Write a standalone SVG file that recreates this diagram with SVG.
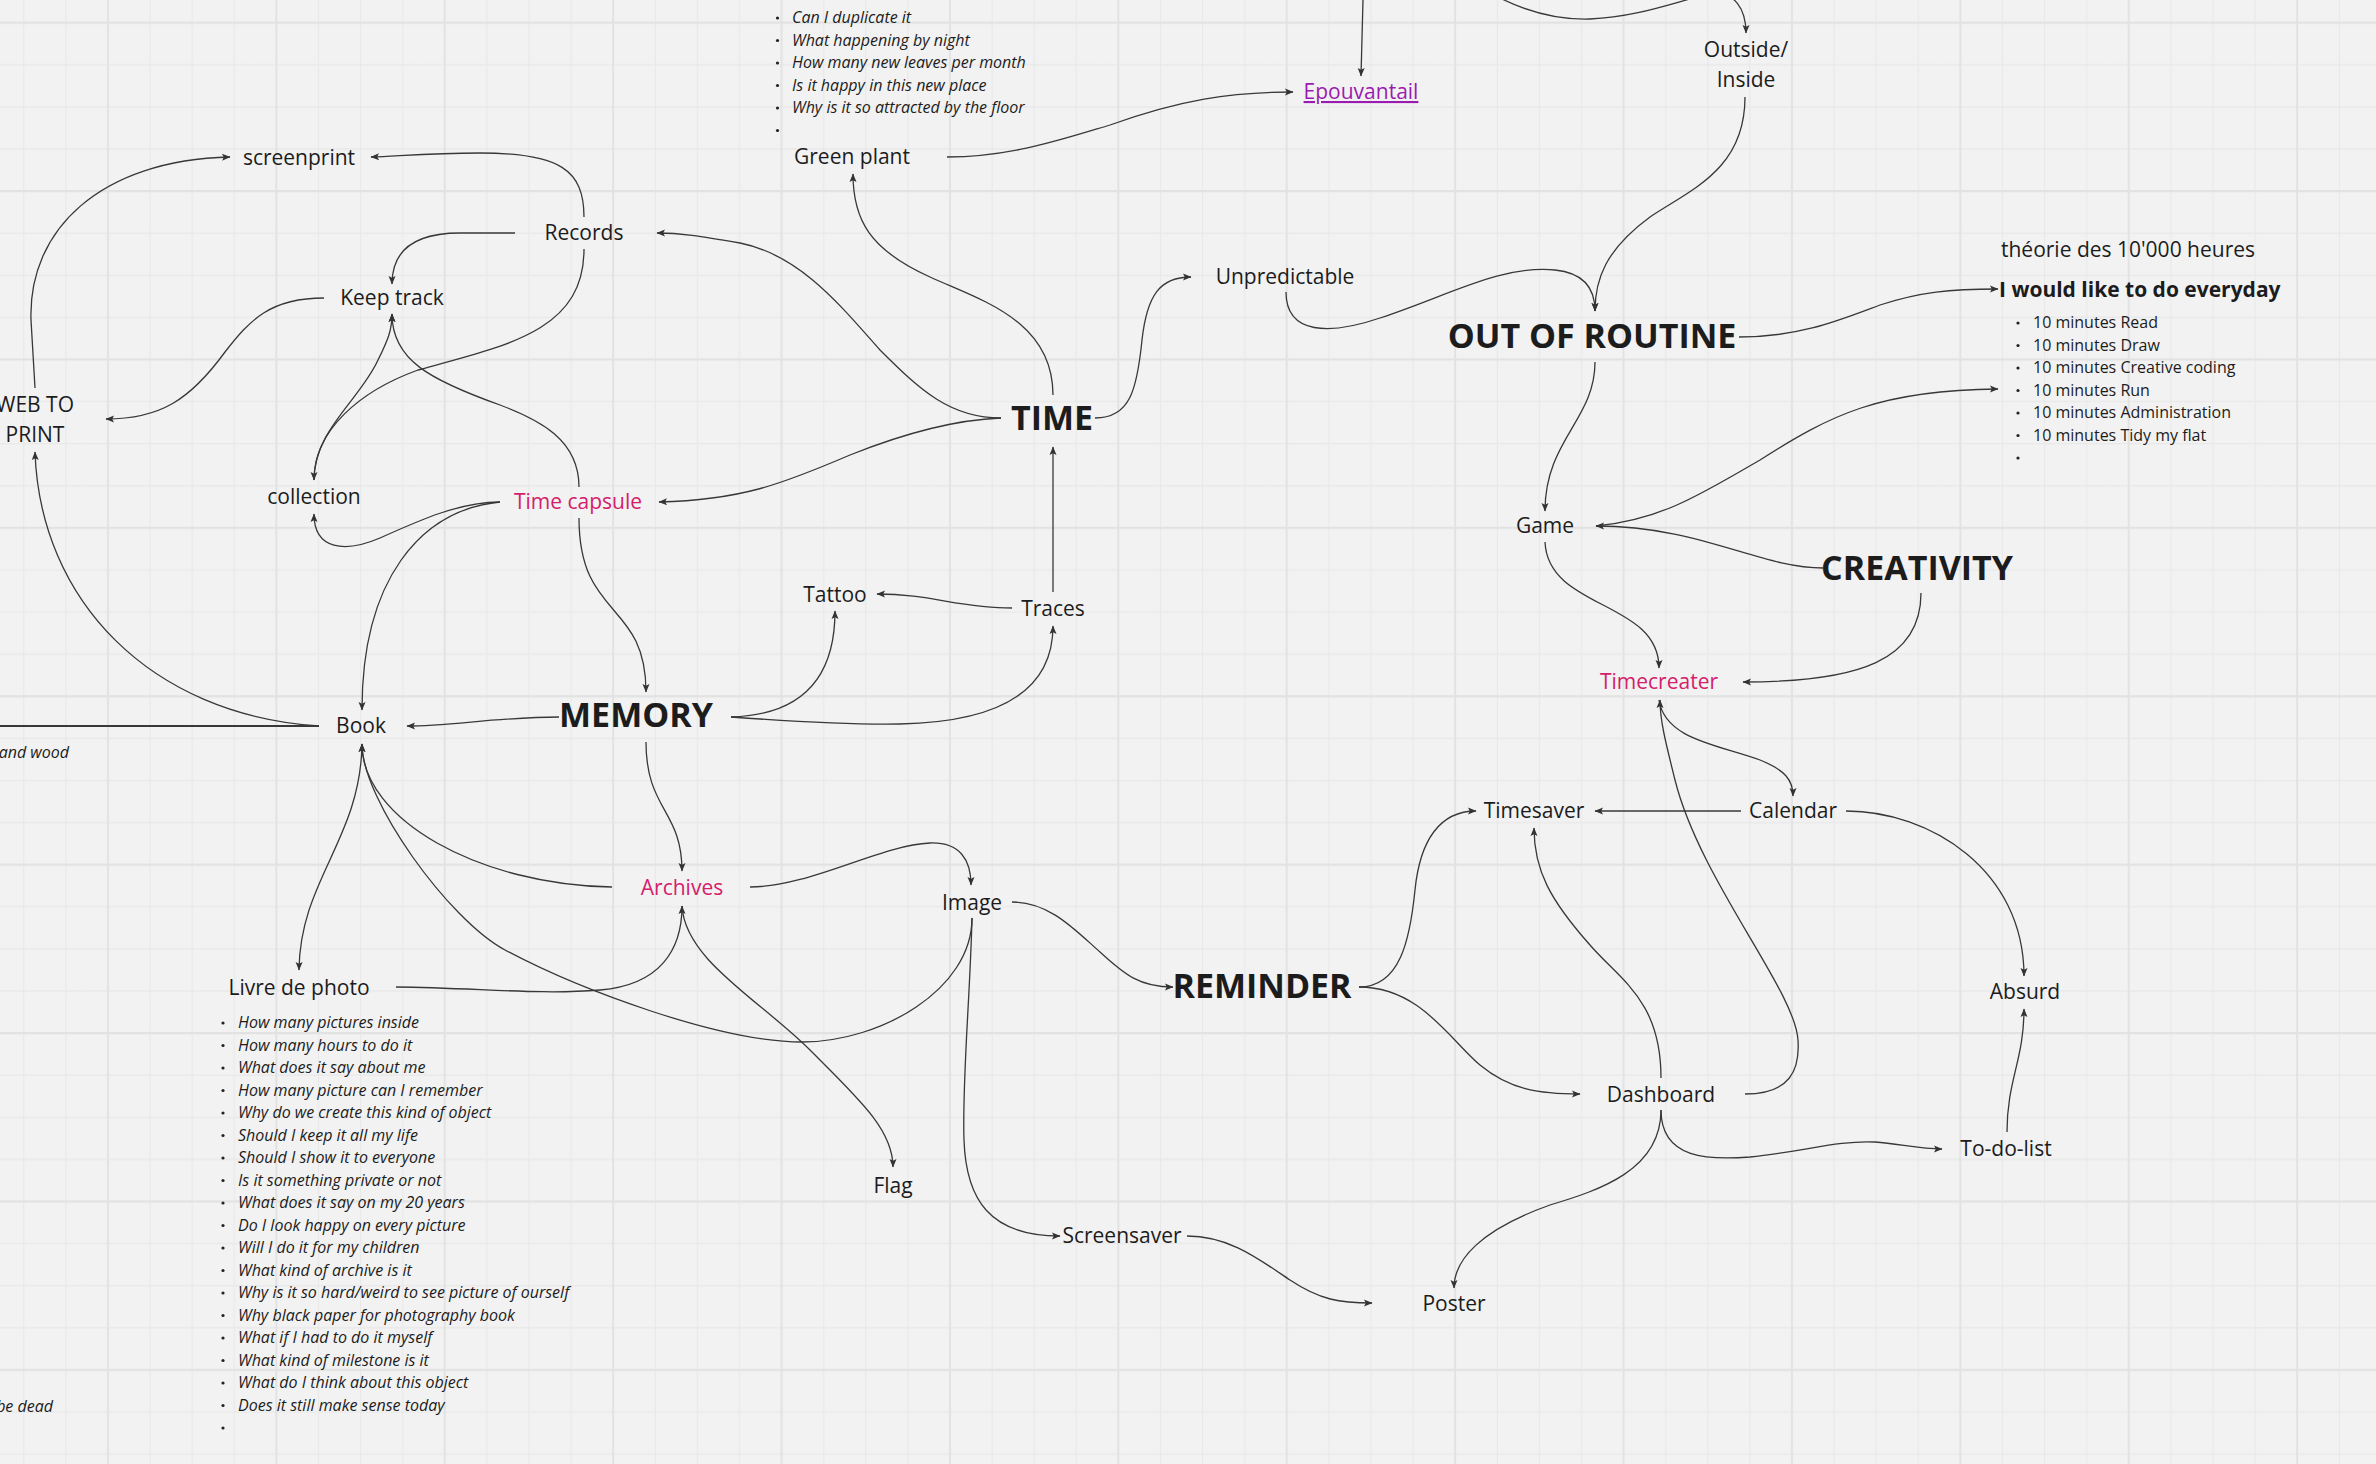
<svg xmlns="http://www.w3.org/2000/svg" width="2376" height="1464" viewBox="0 0 2376 1464">
<defs>
<pattern id="grid" x="86.95" y="1.65" width="168.4" height="168.4" patternUnits="userSpaceOnUse">
<path d="M63.15,0V168.4M105.25,0V168.4M147.35,0V168.4M0,63.15H168.4M0,105.25H168.4M0,147.35H168.4" stroke="#e8e8e8" stroke-width="1" fill="none"/>
<path d="M21.05,0V168.4M0,21.05H168.4" stroke="#e2e2e2" stroke-width="2" fill="none"/>
</pattern>
<marker id="ah" viewBox="0 0 10 10" refX="9" refY="5" markerWidth="10" markerHeight="10" markerUnits="userSpaceOnUse" orient="auto">
<path d="M1,1.5 L9.5,5 L1,8.5 L2.8,5 z" fill="#333"/>
</marker>
<style>
text{font-family:"Open Sans","Liberation Sans",sans-serif;fill:#1c1c1c}
.n{font-size:21px;text-anchor:middle}
.b{font-size:34px;font-weight:700;text-anchor:middle}
.pk{fill:#d4206b}
.li{font-size:16px}
.it{font-style:italic}
.dot{fill:#222}
#connectors path{fill:none;stroke:#383838;stroke-width:1.3}
#connectors .ar{marker-end:url(#ah)}
</style>
</defs>
<rect width="2376" height="1464" fill="#f2f2f2"/>
<rect width="2376" height="1464" fill="url(#grid)"/>

<g id="connectors">
<path class="ar" d="M584,217 C584,170 560,153 480,153 C430,153 400,156 371,157"/>
<path class="ar" d="M35,388 L31,320 C28,230 100,160 230,157"/>
<path class="ar" d="M515,233 L460,233 C415,233 392,250 392,284"/>
<path class="ar" d="M584,249 C584,330 510,345 418,370 C360,391 314,430 314,480"/>
<path class="ar" d="M314,480 C314,430 360,400 378,360 C388,340 392,330 392,314"/>
<path class="ar" d="M579,487 C579,440 540,420 500,405 C430,380 392,360 392,314"/>
<path class="ar" d="M324,298 C270,298 250,320 225,352 C190,400 160,419 106,419"/>
<path class="ar" d="M1001,418 C950,418 920,390 880,350 C840,305 800,255 740,243 C700,236 680,233 657,233"/>
<path class="ar" d="M1001,418 C950,420 900,435 850,455 C780,485 740,500 659,502"/>
<path class="ar" d="M500,502 C460,502 420,520 380,538 C345,553 314,550 314,514"/>
<path class="ar" d="M500,502 C420,510 362,580 362,710"/>
<path class="ar" d="M579,518 C579,620 646,600 646,692"/>
<path class="ar" d="M319,726 C150,715 40,600 35,452"/>
<path d="M0,726 L319,726" style="stroke-width:2"/>
<path class="ar" d="M559,717 C500,717 450,726 407,726"/>
<path class="ar" d="M731,717 C800,715 835,680 835,611"/>
<path class="ar" d="M731,717 C800,722 850,725 900,724 C1000,722 1053,690 1053,626"/>
<path class="ar" d="M1012,608 C960,608 930,594 877,594"/>
<path class="ar" d="M1053,592 L1053,447"/>
<path class="ar" d="M1053,395 C1053,320 980,300 930,277 C870,250 853,220 853,174"/>
<path class="ar" d="M947,157 C1010,157 1060,140 1110,125 C1180,100 1230,92 1293,92"/>
<path class="ar" d="M1363,0 L1361,76"/>
<path class="ar" d="M1095,418 C1130,418 1137,390 1142,340 C1147,295 1160,277 1191,277"/>
<path class="ar" d="M1286,292 C1286,335 1330,335 1380,318 C1450,295 1500,265 1555,270 C1585,273 1595,290 1595,311"/>
<path class="ar" d="M1745,97 C1745,170 1690,190 1650,217 C1605,250 1595,280 1595,311"/>
<path class="ar" d="M1500,-2 C1530,13 1560,20 1590,19 C1640,17 1680,0 1710,-6 C1735,-10 1746,10 1746,33"/>
<path class="ar" d="M1739,337 C1800,337 1840,320 1880,305 C1920,292 1950,289 1998,289"/>
<path class="ar" d="M1595,362 C1595,420 1545,440 1545,511"/>
<path d="M1596,526 C1660,520 1700,495 1760,460 C1830,415 1880,390 1998,389" class="ar"/>
<path class="ar" d="M1823,568 C1760,568 1700,526 1596,526"/>
<path class="ar" d="M1545,542 C1548,610 1659,600 1659,668"/>
<path class="ar" d="M1921,593 C1921,660 1860,682 1743,682"/>
<path class="ar" d="M1659,700 C1665,740 1720,745 1760,760 C1785,770 1793,780 1793,796"/>
<path class="ar" d="M1745,1094 C1790,1094 1800,1070 1798,1040 C1795,990 1700,880 1675,780 C1665,740 1660,720 1660,700"/>
<path class="ar" d="M1741,811 L1595,811"/>
<path class="ar" d="M1846,811 C1930,811 2024,870 2024,976"/>
<path class="ar" d="M1359,987 C1400,987 1410,940 1415,890 C1420,840 1440,811 1476,811"/>
<path class="ar" d="M1359,987 C1420,987 1450,1040 1480,1065 C1510,1090 1540,1094 1580,1094"/>
<path class="ar" d="M1661,1078 C1661,1000 1620,980 1590,945 C1550,900 1534,870 1534,828"/>
<path class="ar" d="M1661,1110 C1661,1160 1710,1160 1750,1157 C1800,1152 1840,1140 1875,1142 C1900,1144 1920,1149 1942,1149"/>
<path class="ar" d="M1661,1110 C1661,1170 1600,1190 1550,1205 C1480,1230 1454,1260 1454,1288"/>
<path class="ar" d="M2007,1132 C2007,1080 2024,1060 2024,1009"/>
<path class="ar" d="M1187,1236 C1230,1236 1260,1260 1290,1280 C1320,1300 1340,1303 1372,1303"/>
<path class="ar" d="M972,918 C970,1000 962,1080 964,1140 C966,1200 990,1236 1060,1236"/>
<path class="ar" d="M1012,902 C1050,902 1075,930 1100,952 C1125,975 1140,987 1173,987"/>
<path class="ar" d="M750,887 C810,887 880,845 930,843 C960,842 971,860 971,885"/>
<path class="ar" d="M646,742 C646,810 682,810 682,871"/>
<path class="ar" d="M612,887 C480,885 362,820 362,744"/>
<path class="ar" d="M362,745 C360,840 300,880 299,970"/>
<path class="ar" d="M972,918 C972,990 880,1042 802,1042 C720,1042 580,990 505,950 C449,920 362,800 362,744"/>
<path class="ar" d="M396,987 C480,988 540,995 600,990 C660,985 682,950 682,906"/>
<path class="ar" d="M682,906 C685,960 760,1000 810,1050 C860,1100 893,1130 893,1167"/>
</g>

<g id="screenprint"><text class="n" x="299" y="165">screenprint</text></g>
<g id="records"><text class="n" x="584" y="240">Records</text></g>
<g id="keep-track"><text class="n" x="392" y="305">Keep track</text></g>
<g id="web-to-print"><text class="n" x="35" y="412">WEB TO</text><text class="n" x="35" y="442">PRINT</text></g>
<g id="collection"><text class="n" x="314" y="504">collection</text></g>
<g id="time-capsule"><text class="n pk" x="578" y="509">Time capsule</text></g>
<g id="book"><text class="n" x="361" y="733">Book</text></g>
<g id="memory"><text class="b" x="636" y="727">MEMORY</text></g>
<g id="tattoo"><text class="n" x="835" y="602">Tattoo</text></g>
<g id="traces"><text class="n" x="1053" y="616">Traces</text></g>
<g id="time"><text class="b" x="1052" y="430">TIME</text></g>
<g id="green-plant"><text class="n" x="852" y="164">Green plant</text></g>
<g id="green-plant-list" class="li it">
<circle class="dot" cx="777.5" cy="18" r="1.6"/><text class="li it" x="792" y="23">Can I duplicate it</text>
<circle class="dot" cx="777.5" cy="40.5" r="1.6"/><text class="li it" x="792" y="45.5">What happening by night</text>
<circle class="dot" cx="777.5" cy="63" r="1.6"/><text class="li it" x="792" y="68">How many new leaves per month</text>
<circle class="dot" cx="777.5" cy="85.5" r="1.6"/><text class="li it" x="792" y="90.5">Is it happy in this new place</text>
<circle class="dot" cx="777.5" cy="108" r="1.6"/><text class="li it" x="792" y="113">Why is it so attracted by the floor</text>
<circle class="dot" cx="777.5" cy="130.5" r="1.6"/>
</g>
<g id="epouvantail"><text class="n" x="1361" y="99" style="fill:#9a1bb0;text-decoration:underline">Epouvantail</text></g>
<g id="unpredictable"><text class="n" x="1285" y="284">Unpredictable</text></g>
<g id="outside-inside"><text class="n" x="1746" y="57">Outside/</text><text class="n" x="1746" y="87">Inside</text></g>
<g id="out-of-routine"><text class="b" x="1592" y="348">OUT OF ROUTINE</text></g>
<g id="everyday">
<text x="2128" y="257" style="font-size:21px;text-anchor:middle">théorie des 10'000 heures</text>
<text x="1999" y="297" style="font-size:21px;font-weight:700">I would like to do everyday</text>
<circle class="dot" cx="2018" cy="323" r="1.6"/><text class="li" x="2033" y="328">10 minutes Read</text>
<circle class="dot" cx="2018" cy="345.5" r="1.6"/><text class="li" x="2033" y="350.5">10 minutes Draw</text>
<circle class="dot" cx="2018" cy="368" r="1.6"/><text class="li" x="2033" y="373">10 minutes Creative coding</text>
<circle class="dot" cx="2018" cy="390.5" r="1.6"/><text class="li" x="2033" y="395.5">10 minutes Run</text>
<circle class="dot" cx="2018" cy="413" r="1.6"/><text class="li" x="2033" y="418">10 minutes Administration</text>
<circle class="dot" cx="2018" cy="435.5" r="1.6"/><text class="li" x="2033" y="440.5">10 minutes Tidy my flat</text>
<circle class="dot" cx="2018" cy="458" r="1.6"/>
</g>
<g id="game"><text class="n" x="1545" y="533">Game</text></g>
<g id="creativity"><text class="b" x="1917" y="580">CREATIVITY</text></g>
<g id="timecreater"><text class="n pk" x="1659" y="689">Timecreater</text></g>
<g id="timesaver"><text class="n" x="1534" y="818">Timesaver</text></g>
<g id="calendar"><text class="n" x="1793" y="818">Calendar</text></g>
<g id="absurd"><text class="n" x="2025" y="999">Absurd</text></g>
<g id="dashboard"><text class="n" x="1661" y="1102">Dashboard</text></g>
<g id="to-do-list"><text class="n" x="2006" y="1156">To-do-list</text></g>
<g id="poster"><text class="n" x="1454" y="1311">Poster</text></g>
<g id="reminder"><text class="b" x="1262" y="998">REMINDER</text></g>
<g id="screensaver"><text class="n" x="1122" y="1243">Screensaver</text></g>
<g id="flag"><text class="n" x="893" y="1193">Flag</text></g>
<g id="image"><text class="n" x="972" y="910">Image</text></g>
<g id="archives"><text class="n pk" x="682" y="895">Archives</text></g>
<g id="livre-de-photo"><text class="n" x="299" y="995">Livre de photo</text></g>
<g id="livre-list">
<circle class="dot" cx="223" cy="1023" r="1.6"/><text class="li it" x="238" y="1028">How many pictures inside</text>
<circle class="dot" cx="223" cy="1045.5" r="1.6"/><text class="li it" x="238" y="1050.5">How many hours to do it</text>
<circle class="dot" cx="223" cy="1068" r="1.6"/><text class="li it" x="238" y="1073">What does it say about me</text>
<circle class="dot" cx="223" cy="1090.5" r="1.6"/><text class="li it" x="238" y="1095.5">How many picture can I remember</text>
<circle class="dot" cx="223" cy="1113" r="1.6"/><text class="li it" x="238" y="1118">Why do we create this kind of object</text>
<circle class="dot" cx="223" cy="1135.5" r="1.6"/><text class="li it" x="238" y="1140.5">Should I keep it all my life</text>
<circle class="dot" cx="223" cy="1158" r="1.6"/><text class="li it" x="238" y="1163">Should I show it to everyone</text>
<circle class="dot" cx="223" cy="1180.5" r="1.6"/><text class="li it" x="238" y="1185.5">Is it something private or not</text>
<circle class="dot" cx="223" cy="1203" r="1.6"/><text class="li it" x="238" y="1208">What does it say on my 20 years</text>
<circle class="dot" cx="223" cy="1225.5" r="1.6"/><text class="li it" x="238" y="1230.5">Do I look happy on every picture</text>
<circle class="dot" cx="223" cy="1248" r="1.6"/><text class="li it" x="238" y="1253">Will I do it for my children</text>
<circle class="dot" cx="223" cy="1270.5" r="1.6"/><text class="li it" x="238" y="1275.5">What kind of archive is it</text>
<circle class="dot" cx="223" cy="1293" r="1.6"/><text class="li it" x="238" y="1298">Why is it so hard/weird to see picture of ourself</text>
<circle class="dot" cx="223" cy="1315.5" r="1.6"/><text class="li it" x="238" y="1320.5">Why black paper for photography book</text>
<circle class="dot" cx="223" cy="1338" r="1.6"/><text class="li it" x="238" y="1343">What if I had to do it myself</text>
<circle class="dot" cx="223" cy="1360.5" r="1.6"/><text class="li it" x="238" y="1365.5">What kind of milestone is it</text>
<circle class="dot" cx="223" cy="1383" r="1.6"/><text class="li it" x="238" y="1388">What do I think about this object</text>
<circle class="dot" cx="223" cy="1405.5" r="1.6"/><text class="li it" x="238" y="1410.5">Does it still make sense today</text>
<circle class="dot" cx="223" cy="1428" r="1.6"/>
</g>
<g id="left-notes">
<text class="li it" x="69" y="758" style="text-anchor:end">and wood</text>
<text class="li it" x="53" y="1412" style="text-anchor:end">be dead</text>
</g>
</svg>
